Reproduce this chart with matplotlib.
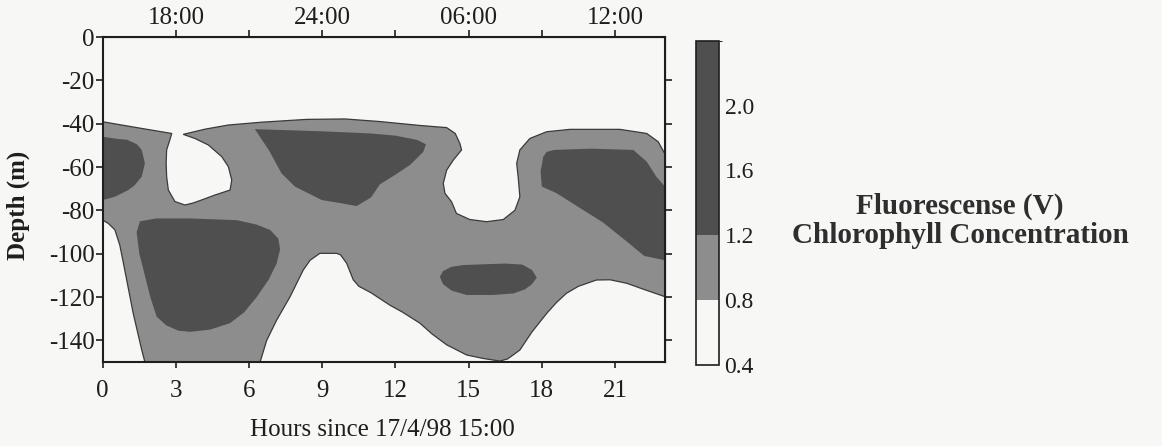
import matplotlib
matplotlib.use('Agg')
import matplotlib.pyplot as plt
from matplotlib.colors import ListedColormap, BoundaryNorm
from matplotlib.cm import ScalarMappable

# ------------Данные (читаны с картинки)----------------------------

level_bounds = [0.4, 0.8, 1.2, 2.4]
level_colors = ['#f7f7f5', '#8d8d8d', '#4f4f4f']
cbar_ticks = [0.4, 0.8, 1.2, 1.6, 2.0]

hour_ticks = [0, 3, 6, 9, 12, 15, 18, 21]
depth_ticks = [0, -20, -40, -60, -80, -100, -120, -140]
clock_ticks = [3, 6, 9, 12, 15, 18, 21]
clock_labels = ['18:00', '', '24:00', '', '06:00', '', '12:00']

# контур 0.8 В (граница серой области)
gray_hours = [0, 1.4, 2.83, 2.75, 2.62, 2.6, 2.62, 2.69, 2.96, 3.37, 3.7,
              4.05, 4.6, 5.22, 5.29, 5.15, 4.88, 4.33, 3.78, 3.3, 4.2, 5.15,
              6.5, 8.36, 9.93, 11.36, 13.0, 14.1, 14.45, 14.64, 14.71, 14.37,
              14.1, 13.96, 14.03, 14.3, 14.5, 15.05, 15.74, 16.42, 16.9,
              17.1, 17.03, 16.97, 17.1, 17.51, 18.2, 19.15, 21.2, 22.3,
              22.77, 23.05, 23.05, 22.2, 21.48, 20.8, 20.24, 19.5, 19.0,
              18.6, 18.2, 17.6, 17.1, 16.6, 16.28, 15.6, 14.92, 14.1, 13.5,
              13.0, 12.3, 11.77, 11.0, 10.5, 10.27, 10.0, 9.75, 9.59, 8.9,
              8.5, 8.22, 7.68, 7.13, 6.72, 6.45, 1.73, 1.6, 1.25, 0.85, 0.7,
              0.5, 0.23, 0]
gray_depth = [-39.1, -41.8, -44.5, -47.5, -52.1, -58, -64.4, -70.6, -75.9,
              -77.5, -76.6, -75.2, -72.9, -70.6, -66, -59.8, -55.2, -49.8,
              -46.8, -44.9, -42.5, -40.6, -39.3, -38, -37.8, -39, -40.8,
              -41.8, -44.5, -49.1, -52.1, -56.8, -61.4, -67.5, -72.1, -76,
              -81.4, -84.2, -85.2, -84.2, -79.9, -73.7, -64.5, -58.3, -52.1,
              -46.8, -43.7, -42.6, -42.6, -44.5, -48.3, -54, -119.8, -116.5,
              -113.6, -112, -112.1, -115, -118.3, -122.5, -127.5, -136,
              -144.4, -148.5, -149.5, -148.3, -146.7, -142, -137, -132,
              -127, -123.7, -118, -115, -112, -104.4, -100.5, -99.8, -99.8,
              -103, -107.5, -119.8, -130.6, -140, -150, -150, -144.4,
              -127.5, -104.4, -96, -89, -86, -84.5]

# контуры 1.2 В (тёмные пятна)
dark_a_hours = [0, 0.6, 1.0, 1.4, 1.6, 1.73, 1.6, 1.3, 1.05, 0.5, 0]
dark_a_depth = [-46, -47, -47.4, -49.5, -52.1, -58.3, -64.4, -68.5, -70.6,
                -73.7, -75.2]

dark_b_hours = [1.53, 1.39, 1.5, 1.66, 1.95, 2.21, 2.6, 3.1, 3.58, 4.4,
                5.22, 5.8, 6.31, 6.8, 7.13, 7.27, 7.2, 6.86, 6.3, 5.5, 3.58,
                2.2]
dark_b_depth = [-85, -90, -100, -107, -120, -129, -133, -135.5, -136, -135,
                -132, -127, -120, -112, -104.5, -98, -93, -89, -86.5, -84.5,
                -83.7, -83.7]

dark_c_hours = [6.24, 6.5, 6.8, 7.33, 7.88, 8.98, 9.93, 10.41, 11.0, 11.36,
                12.0, 12.6, 13.14, 13.25, 12.9, 12.0, 11.0, 9.0, 7.0]
dark_c_depth = [-42.5, -47, -52, -62.9, -69, -75.2, -77, -78, -74, -68,
                -63.5, -59, -53, -49.5, -47.5, -45.5, -44.5, -43.5, -42.8]

dark_d_hours = [17.95, 18.06, 18.2, 18.5, 20.0, 21.75, 22.3, 22.7, 23.05,
                23.05, 22.2, 21.5, 20.5, 19.3, 18.6, 18.0]
dark_d_depth = [-62, -55.2, -53, -52.1, -51.5, -52.1, -57.5, -64.5, -69,
                -103, -101, -94.5, -85.5, -77, -72, -69]

dark_e_hours = [13.82, 13.95, 14.3, 14.78, 16.5, 17.2, 17.6, 17.79, 17.6,
                17.3, 16.83, 16.0, 14.92, 14.3, 13.95]
dark_e_depth = [-110.6, -108, -106, -105.2, -104.5, -105, -107.5, -111,
                -114, -116.5, -118.3, -119, -119, -117, -114]

dark_blobs = [(dark_a_hours, dark_a_depth), (dark_b_hours, dark_b_depth),
              (dark_c_hours, dark_c_depth), (dark_d_hours, dark_d_depth),
              (dark_e_hours, dark_e_depth)]

# ------------Построение графика----------------------------------

plt.rcParams['font.family'] = ['Liberation Serif', 'DejaVu Serif']
paper = '#f7f7f5'
ink = '#1e1e1e'

fig = plt.figure(figsize=(11.62, 4.46), dpi=100, facecolor=paper)
ax = fig.add_axes([0.0884, 0.188, 0.4839, 0.729], facecolor=paper)

ax.fill(gray_hours, gray_depth, facecolor=level_colors[1],
        edgecolor='#3a3a3a', linewidth=0.9)
for hours, depth in dark_blobs:
    ax.fill(hours, depth, facecolor=level_colors[2], edgecolor='none')

ax.set_xlim(0, 23.05)
ax.set_ylim(-150, 0)

ax.set_xticks(hour_ticks)
ax.set_xticklabels([str(h) for h in hour_ticks])
ax.set_yticks(depth_ticks)
ax.set_yticklabels([str(d) for d in depth_ticks])
ax.tick_params(axis='x', direction='out', length=4, width=1.2, pad=9,
               labelsize=18, colors=ink)
ax.tick_params(axis='y', direction='out', length=5, width=1.2, pad=1,
               labelsize=18, colors=ink)
for side in ax.spines.values():
    side.set_linewidth(1.5)
    side.set_color(ink)

top = ax.secondary_xaxis('top')
top.set_xticks(clock_ticks)
top.set_xticklabels(clock_labels)
top.tick_params(direction='out', length=5, width=1.2, pad=1, labelsize=18,
                colors=ink)

right = ax.secondary_yaxis('right')
right.set_yticks(depth_ticks[1:])
right.set_yticklabels([])
right.tick_params(direction='out', length=5, width=1.2, colors=ink)

fig.text(0.0155, 1 - 205 / 446, 'Depth (m)', rotation=90, ha='center',
         va='center', fontsize=18, fontweight='bold', color=ink)
fig.text(382 / 1162, 1 - 430 / 446, 'Hours since 17/4/98 15:00',
         ha='center', va='center', fontsize=18, color=ink)

# ------------Шкала цветов-----------------------------------------

cax = fig.add_axes([0.599, 0.1816, 0.0198, 0.727])
cmap = ListedColormap(level_colors)
norm = BoundaryNorm(level_bounds, cmap.N)
cbar = fig.colorbar(ScalarMappable(norm=norm, cmap=cmap), cax=cax,
                    boundaries=level_bounds, spacing='proportional',
                    ticks=cbar_ticks)
cbar.ax.set_yticklabels(['%.1f' % v for v in cbar_ticks])
cbar.ax.tick_params(length=0, pad=4, labelsize=17, colors=ink)
cbar.outline.set_linewidth(1.2)
cbar.outline.set_edgecolor(ink)

fig.text(960 / 1162, 1 - 221 / 446,
         'Fluorescense (V)\nChlorophyll Concentration', ha='center',
         va='center', fontsize=21, fontweight='bold', color='#2e2e2e',
         linespacing=1.1)

plt.savefig('out.png', dpi=100, facecolor=paper)
